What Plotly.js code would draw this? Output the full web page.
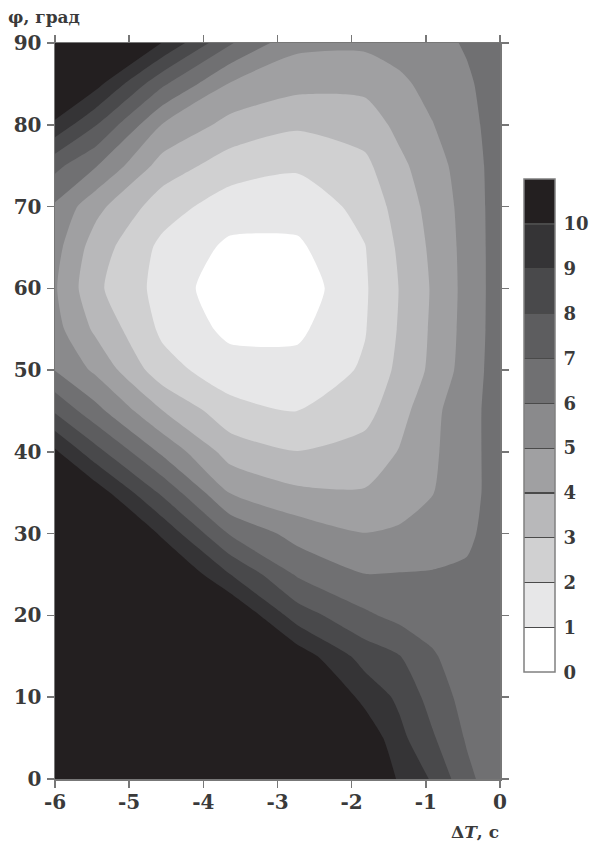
<!DOCTYPE html>
<html>
<head>
<meta charset="utf-8">
<script src="https://cdn.plot.ly/plotly-3.0.1.min.js"></script>
<style>html,body{margin:0;padding:0;background:#fff;}#chart{width:589px;height:845px;}</style>
</head>
<body>
<div id="chart"></div>
<script>
// ΔT grid nodes (s) and φ grid nodes (deg)
const dT = [-6, -5.45, -4.55, -3.64, -2.73, -1.82, -1.36, -0.91, -0.45, 0];
const phi = [0, 5, 10, 15, 20, 25, 30, 35, 40, 45, 50, 55, 60, 65, 70, 75, 80, 85, 90];

// values read along each ΔT column, from φ = 0 up to φ = 90
const col_m6_00 = [21, 20, 19, 18, 17, 15.5, 14, 12.3, 10.17, 7.87, 5.97, 5.35, 5.1, 5.35, 5.85, 7.28, 9.75, 11.8, 13.5];
const col_m5_45 = [19.5, 18.5, 17.5, 16.5, 15.5, 14, 12.5, 10.6, 8.36, 6.33, 4.8, 3.8, 3.2, 3.5, 4.3, 6.07, 8.05, 10.35, 12.5];
const col_m4_55 = [17, 16, 15, 14, 13, 11.5, 9.8, 7.8, 5.8, 4.02, 2.38, 1.8, 1.63, 1.75, 2.45, 3.57, 4.94, 7.17, 9.95];
const col_m3_64 = [15.5, 14.5, 13.5, 12.5, 11.2, 9.02, 6.92, 4.97, 3.57, 2.36, 1.44, 0.75, 0.35, 0.8, 1.49, 2.5, 3.67, 4.92, 7.1];
const col_m2_73 = [14, 13, 12, 10.6, 8.5, 6.88, 5.61, 4.2, 3.02, 1.98, 1.33, 0.8, 0.4, 0.83, 1.41, 2.14, 3.15, 4.31, 5.25];
const col_m1_82 = [12, 10.8, 9.67, 8.58, 7.18, 6.02, 5.02, 4.09, 3.36, 2.67, 2.13, 1.95, 1.89, 1.97, 2.3, 2.78, 3.44, 4.28, 5.2];
const col_m1_36 = [9.8, 9.3, 8.8, 8.05, 6.7, 6.05, 5.13, 4.55, 4.05, 3.6, 3.25, 3.08, 3.02, 3.15, 3.4, 3.75, 4.27, 4.82, 5.35];
const col_m0_91 = [8.9, 8.12, 7.6, 7.1, 6.6, 6.08, 5.4, 4.97, 4.85, 4.76, 4.22, 4.15, 4.1, 4.2, 4.35, 4.6, 4.97, 5.28, 5.6];
const col_m0_45 = [7.27, 6.9, 6.62, 6.5, 6.35, 6.15, 5.8, 5.6, 5.6, 5.6, 5.45, 5.35, 5.32, 5.33, 5.37, 5.45, 5.62, 5.82, 6.12];
const col_p0_00 = [6.3, 6.4, 6.45, 6.55, 6.55, 6.5, 6.5, 6.5, 6.5, 6.5, 6.5, 6.5, 6.5, 6.5, 6.5, 6.5, 6.55, 6.6, 6.7];

// band colours, level 0..10
const bandColors = ['#ffffff', '#e7e7e8', '#d0d0d1', '#b8b8ba', '#a0a0a2', '#8a8a8c',
                    '#707072', '#5d5d5f', '#49494b', '#353436', '#231f20'];

// tick labels
const xTickVals = [-6, -5, -4, -3, -2, -1, 0];
const xTickText = ['-6', '-5', '-4', '-3', '-2', '-1', '0'];
const yTickVals = [0, 10, 20, 30, 40, 50, 60, 70, 80, 90];
const yTickText = ['0', '10', '20', '30', '40', '50', '60', '70', '80', '90'];
const cbTickVals = [0, 1, 2, 3, 4, 5, 6, 7, 8, 9, 10];
const cbTickText = ['0', '1', '2', '3', '4', '5', '6', '7', '8', '9', '10'];

const columns = [col_m6_00, col_m5_45, col_m4_55, col_m3_64, col_m2_73, col_m1_82, col_m1_36, col_m0_91, col_m0_45, col_p0_00];
const z = phi.map((_, i) => columns.map(c => c[i]));
const colorscale = bandColors.map((c, i) => [i / 10, c]);

const tickFont = {family: 'DejaVu Serif', size: 20, color: '#3a3a3a', weight: 'bold'};
const cbFont = {family: 'DejaVu Serif', size: 18, color: '#3a3a3a', weight: 'bold'};

const trace = {
  type: 'contour',
  x: dT,
  y: phi,
  z: z,
  contours: {start: 1, end: 10, size: 1, coloring: 'fill', showlines: false},
  line: {width: 0, smoothing: 0.6},
  colorscale: colorscale,
  zmin: 0, zmax: 11,
  colorbar: {
    x: 1.054, xanchor: 'left', y: 0.48, yanchor: 'middle',
    len: 493, lenmode: 'pixels', thickness: 31, thicknessmode: 'pixels',
    outlinewidth: 1.5, outlinecolor: '#808080', borderwidth: 0, xpad: 0, ypad: 0,
    tickvals: cbTickVals, ticktext: cbTickText.map(t => '\u2009' + t),
    ticks: 'inside', ticklen: 31, tickwidth: 1.2, tickcolor: '#4a4a4a',
    tickfont: cbFont
  },
  hoverinfo: 'skip'
};

const axisCommon = {
  ticks: 'outside', ticklen: 7, tickwidth: 1.5, tickcolor: '#777',
  showline: true, linecolor: '#777', linewidth: 1.5, mirror: 'ticks',
  showgrid: false, zeroline: false, tickfont: tickFont
};

const layout = {
  width: 589, height: 845,
  margin: {l: 55, r: 89, t: 43, b: 66, pad: 0, autoexpand: false},
  paper_bgcolor: '#fff', plot_bgcolor: '#fff',
  showlegend: false,
  xaxis: Object.assign({}, axisCommon, {range: [-6, 0], tickvals: xTickVals, ticktext: xTickText, ticklabelstandoff: -3}),
  yaxis: Object.assign({}, axisCommon, {range: [0, 90], tickvals: yTickVals, ticktext: yTickText, ticklabelstandoff: 1}),
  annotations: [
    {text: 'φ, град', xref: 'paper', yref: 'paper', x: -0.11, y: 1.035, xanchor: 'left', yanchor: 'middle',
     showarrow: false, font: {family: 'DejaVu Serif', size: 17, color: '#3a3a3a', weight: 'bold'}},
    {text: 'Δ<i>T</i>, с', xref: 'paper', yref: 'paper', x: 1.003, y: -0.072, xanchor: 'right', yanchor: 'middle',
     showarrow: false, font: {family: 'DejaVu Serif', size: 17, color: '#3a3a3a', weight: 'bold'}}
  ]
};

Plotly.newPlot('chart', [trace], layout, {displayModeBar: false, staticPlot: true});
</script>
</body>
</html>
